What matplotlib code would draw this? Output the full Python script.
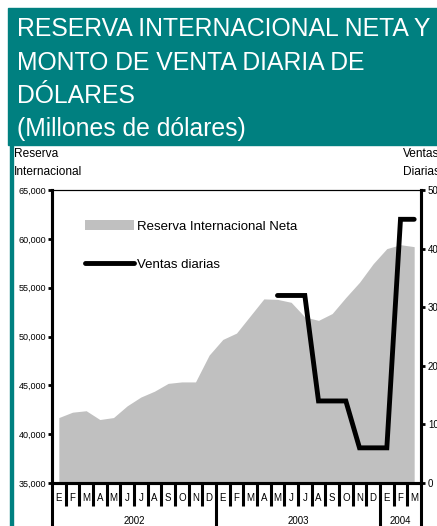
import matplotlib
matplotlib.use("Agg")
import matplotlib.pyplot as plt
import matplotlib.transforms as mtransforms
from matplotlib.patches import Rectangle, Patch
from matplotlib.lines import Line2D
from matplotlib.ticker import FuncFormatter
import numpy as np

plt.rcParams['font.family'] = ['Liberation Sans', 'DejaVu Sans']

months = ['E', 'F', 'M', 'A', 'M', 'J', 'J', 'A', 'S', 'O', 'N', 'D',
          'E', 'F', 'M', 'A', 'M', 'J', 'J', 'A', 'S', 'O', 'N', 'D',
          'E', 'F', 'M']
years = ['2002', '2003', '2004']
year_start = [0, 12, 24]

reserva = [41700, 42250, 42400, 41500, 41700, 42900, 43800, 44400, 45200, 45350, 45350, 48100,
           49700, 50350, 52100, 53850, 53800, 53500, 52000, 51650, 52350, 54000, 55550, 57450,
           59000, 59400, 59200]

ventas_start = 16  # first month with a value (2003 May)
ventas = [32, 32, 32, 14, 14, 14, 6, 6, 6, 45, 45]

left_ticks = [35000, 40000, 45000, 50000, 55000, 60000, 65000]
right_ticks = [0, 10, 20, 30, 40, 50]

teal = '#008080'
W, H = 437, 526
fig = plt.figure(figsize=(W / 100, H / 100), dpi=100)

# header box and left stripe
fig.patches.append(Rectangle((8 / W, 1 - 145 / H), (W - 8) / W, 137 / H,
                             transform=fig.transFigure, color=teal, zorder=0))
fig.patches.append(Rectangle((10 / W, 0), 3 / W, 1 - 145 / H,
                             transform=fig.transFigure, color=teal, zorder=0))

title_lines = ['RESERVA INTERNACIONAL NETA Y', 'MONTO DE VENTA DIARIA DE',
               'DÓLARES', '(Millones de dólares)']
baselines = [36, 70, 103, 136]
for t, b in zip(title_lines, baselines):
    fig.text(17 / W, 1 - b / H, t, color='white', fontsize=17.8, va='baseline', ha='left')

fig.text(14 / W, 1 - 157 / H, 'Reserva', fontsize=8.6, va='baseline')
fig.text(14 / W, 1 - 175 / H, 'Internacional', fontsize=8.6, va='baseline')
fig.text(403 / W, 1 - 157 / H, 'Ventas', fontsize=8.6, va='baseline')
fig.text(403 / W, 1 - 175 / H, 'Diarias', fontsize=8.6, va='baseline')

ax = fig.add_axes([52 / W, 1 - 483 / H, 369 / W, 293 / H])
n = len(months)
x = np.arange(n) + 0.5
ax.fill_between(x, left_ticks[0], reserva, color='#c0c0c0', linewidth=0, zorder=1)
ax.set_xlim(0, n)
ax.set_ylim(left_ticks[0], left_ticks[-1])
ax.set_yticks(left_ticks)
ax.yaxis.set_major_formatter(FuncFormatter(lambda v, p: f'{int(v):,}'))
ax.tick_params(axis='y', direction='out', length=3, width=2, labelsize=6.5, pad=1)

bounds = np.arange(n + 1)
ax.set_xticks(year_start + [n])
ax.set_xticks(bounds, minor=True)
ax.set_xticklabels([])
ax.tick_params(axis='x', which='major', direction='out', length=31, width=2.2)
ax.tick_params(axis='x', which='minor', direction='out', length=16.5, width=2.2)

for s in ['left', 'right', 'bottom']:
    ax.spines[s].set_linewidth(2.2)
ax.spines['top'].set_linewidth(0.8)

trans = mtransforms.blended_transform_factory(ax.transData, ax.transAxes)
for i, m in enumerate(months):
    ax.text(i + 0.5, -0.05, m, transform=trans, ha='center', va='center', fontsize=7)
ends = year_start[1:] + [n]
for y, s, e in zip(years, year_start, ends):
    ax.text((s + e) / 2, -0.128, y, transform=trans, ha='center', va='center', fontsize=7)

ax2 = ax.twinx()
ax2.set_ylim(right_ticks[0], right_ticks[-1])
ax2.set_yticks(right_ticks)
ax2.tick_params(axis='y', direction='out', length=3, width=2, labelsize=7, pad=2)
for s in ['left', 'right', 'bottom']:
    ax2.spines[s].set_linewidth(2.2)
ax2.spines['top'].set_linewidth(0.8)
xv = np.arange(ventas_start, ventas_start + len(ventas)) + 0.5
ax2.plot(xv, ventas, color='black', linewidth=3.5, solid_capstyle='round',
         solid_joinstyle='miter', zorder=3)

handles = [Patch(facecolor='#c0c0c0', edgecolor='none'),
           Line2D([], [], color='black', linewidth=3.5, solid_capstyle='round')]
leg = ax2.legend(handles, ['Reserva Internacional Neta', 'Ventas diarias'],
                 loc='upper left', bbox_to_anchor=(0.0905, 0.898), frameon=False,
                 fontsize=9.5, handlelength=3.7, handleheight=0.85, handletextpad=0.2,
                 labelspacing=1.9, borderpad=0, borderaxespad=0)

fig.savefig('out.png', dpi=100)
